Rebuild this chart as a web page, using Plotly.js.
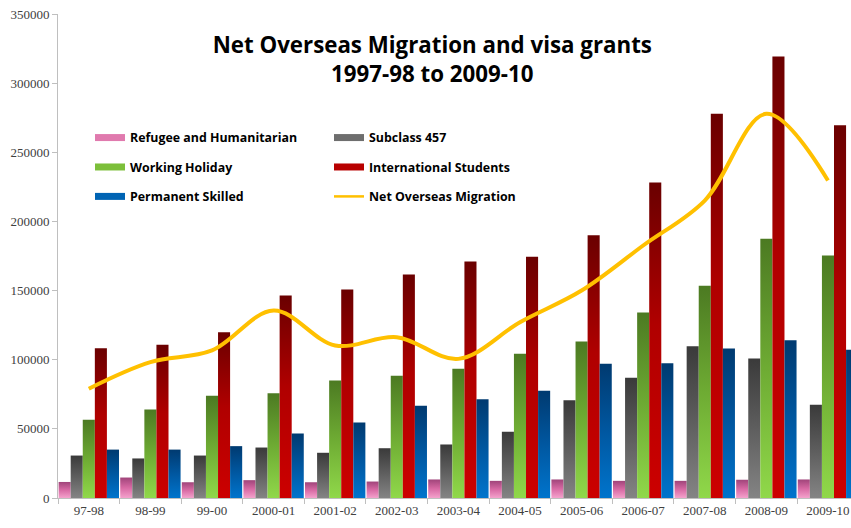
<!DOCTYPE html>
<html>
<head>
<meta charset="utf-8">
<script src="https://cdn.plot.ly/plotly-3.0.1.min.js"></script>
<style>html,body{margin:0;padding:0;background:#fff;overflow:hidden}#chart{width:851px;height:528px}</style>
</head>
<body>
<div id="chart"></div>
<script>
var categories = ['97-98','98-99','99-00','2000-01','2001-02','2002-03','2003-04','2004-05','2005-06','2006-07','2007-08','2008-09','2009-10'];
var refugee = [11600, 14800, 11400, 12900, 11400, 11900, 13400, 12400, 13400, 12400, 12400, 13200, 13400];
var subclass457 = [30700, 28600, 30700, 36500, 32700, 36000, 38700, 47900, 70700, 86900, 109800, 100900, 67400];
var workingHoliday = [56500, 64000, 73900, 75800, 85000, 88400, 93400, 104300, 113200, 134100, 153400, 187400, 175300];
var students = [108300, 110800, 119900, 146400, 150800, 161600, 171000, 174400, 190000, 228100, 277800, 319300, 269600];
var skilled = [35000, 35000, 37500, 46600, 54600, 66700, 71400, 77500, 97000, 97500, 108100, 114100, 107200];
var nom = [79000, 98200, 106700, 135600, 110300, 116300, 100600, 127100, 150000, 182600, 215100, 277800, 229600];

var seriesNames = ['Refugee and Humanitarian','Subclass 457','Working Holiday','International Students','Permanent Skilled','Net Overseas Migration'];
var barSeries = [refugee, subclass457, workingHoliday, students, skilled];
var swatchColors = ['#e07aae','#6e6e6e','#7cbf3a','#b80000','#0064b4','#ffc000'];
var gradStops = [
  [[0,'#a0447a'],[0.5,'#d86aa4'],[1,'#f4a2cc']],
  [[0,'#3a3a3a'],[0.5,'#5e5e5e'],[1,'#848484']],
  [[0,'#4c7a22'],[0.5,'#6eab33'],[1,'#90d84a']],
  [[0,'#6a0000'],[0.45,'#b00000'],[1,'#cc0000']],
  [[0,'#003a70'],[0.5,'#0057a0'],[1,'#0074cc']]
];

var traces = [];
barSeries.forEach(function(vals, i){
  traces.push({type:'bar', x:categories, y:vals, name:seriesNames[i], showlegend:false,
    marker:{color:gradStops[i][1][1], line:{width:0}}, hoverinfo:'y'});
});
traces.push({type:'scatter', mode:'lines', x:categories, y:nom, name:seriesNames[5], showlegend:false,
  line:{color:'#ffc000', width:4, shape:'spline', smoothing:1}});
// legend entries: left column (legend) and right column (legend2)
var legendOrder = [0, 2, 4, 1, 3, 5];
legendOrder.forEach(function(i, k){
  traces.push({type:'scatter', mode:'lines', x:[null], y:[null], name:seriesNames[i], showlegend:true,
    legend:(i % 2 === 0 ? 'legend' : 'legend2'), legendgroup:'g'+i,
    line:{color:swatchColors[i], width:(i<5?7:2.5)}, hoverinfo:'skip'});
});

var legendFont = {family:'Open Sans', size:12.4, color:'#000000', weight:'bold'};
var legY = (498-123)/484;
var layout = {
  width:851, height:528,
  margin:{l:58, r:0, t:14, b:30, pad:0},
  paper_bgcolor:'#ffffff', plot_bgcolor:'#ffffff',
  barmode:'group', bargap:0.02, bargroupgap:0,
  title:{text:'<b>Net Overseas Migration and visa grants<br>1997-98 to 2009-10</b>',
    font:{family:'Open Sans', size:22.3, color:'#000000'},
    xref:'container', x:0.508, xanchor:'center', yref:'container', y:1-53/528, yanchor:'top'},
  showlegend:true,
  legend:{orientation:'v', x:(90-58)/793, xanchor:'left', y:legY, yanchor:'top',
    itemwidth:30, traceorder:'grouped', tracegroupgap:10.3, font:legendFont, bgcolor:'rgba(0,0,0,0)'},
  legend2:{orientation:'v', x:(90-58+239)/793, xanchor:'left', y:legY, yanchor:'top',
    itemwidth:30, traceorder:'grouped', tracegroupgap:10.3, font:legendFont, bgcolor:'rgba(0,0,0,0)'},
  xaxis:{type:'category', range:[-0.5, 12.374], tickson:'boundaries', ticks:'outside', ticklen:5,
    tickcolor:'#bfbfbf', showline:true, linecolor:'#bfbfbf', linewidth:1, showgrid:false, zeroline:false,
    tickfont:{family:'Liberation Serif', size:13, color:'#404040'}},
  yaxis:{range:[0,350000], dtick:50000, tickformat:'d', ticks:'outside', ticklen:5,
    tickcolor:'#bfbfbf', showline:true, linecolor:'#bfbfbf', linewidth:1, showgrid:false, zeroline:false,
    tickfont:{family:'Liberation Serif', size:13, color:'#404040'}}
};

function addGradients(gd){
  var ns = 'http://www.w3.org/2000/svg';
  var svg = gd.querySelector('svg.main-svg');
  var defs = svg.querySelector('defs');
  if(!defs){ defs = document.createElementNS(ns,'defs'); svg.insertBefore(defs, svg.firstChild); }
  gradStops.forEach(function(stops, i){
    var lg = document.createElementNS(ns,'linearGradient');
    lg.setAttribute('id','bargrad'+i);
    lg.setAttribute('x1','0'); lg.setAttribute('y1','0');
    lg.setAttribute('x2','0'); lg.setAttribute('y2','1');
    stops.forEach(function(s){
      var st = document.createElementNS(ns,'stop');
      st.setAttribute('offset', s[0]);
      st.setAttribute('stop-color', s[1]);
      lg.appendChild(st);
    });
    defs.appendChild(lg);
  });
  var bt = gd.querySelectorAll('.barlayer .trace');
  bt.forEach(function(t, i){
    t.querySelectorAll('path').forEach(function(p){ p.style.fill = 'url(#bargrad'+i+')'; });
  });
}

Plotly.newPlot('chart', traces, layout, {displayModeBar:false, staticPlot:true}).then(addGradients);
</script>
</body>
</html>
